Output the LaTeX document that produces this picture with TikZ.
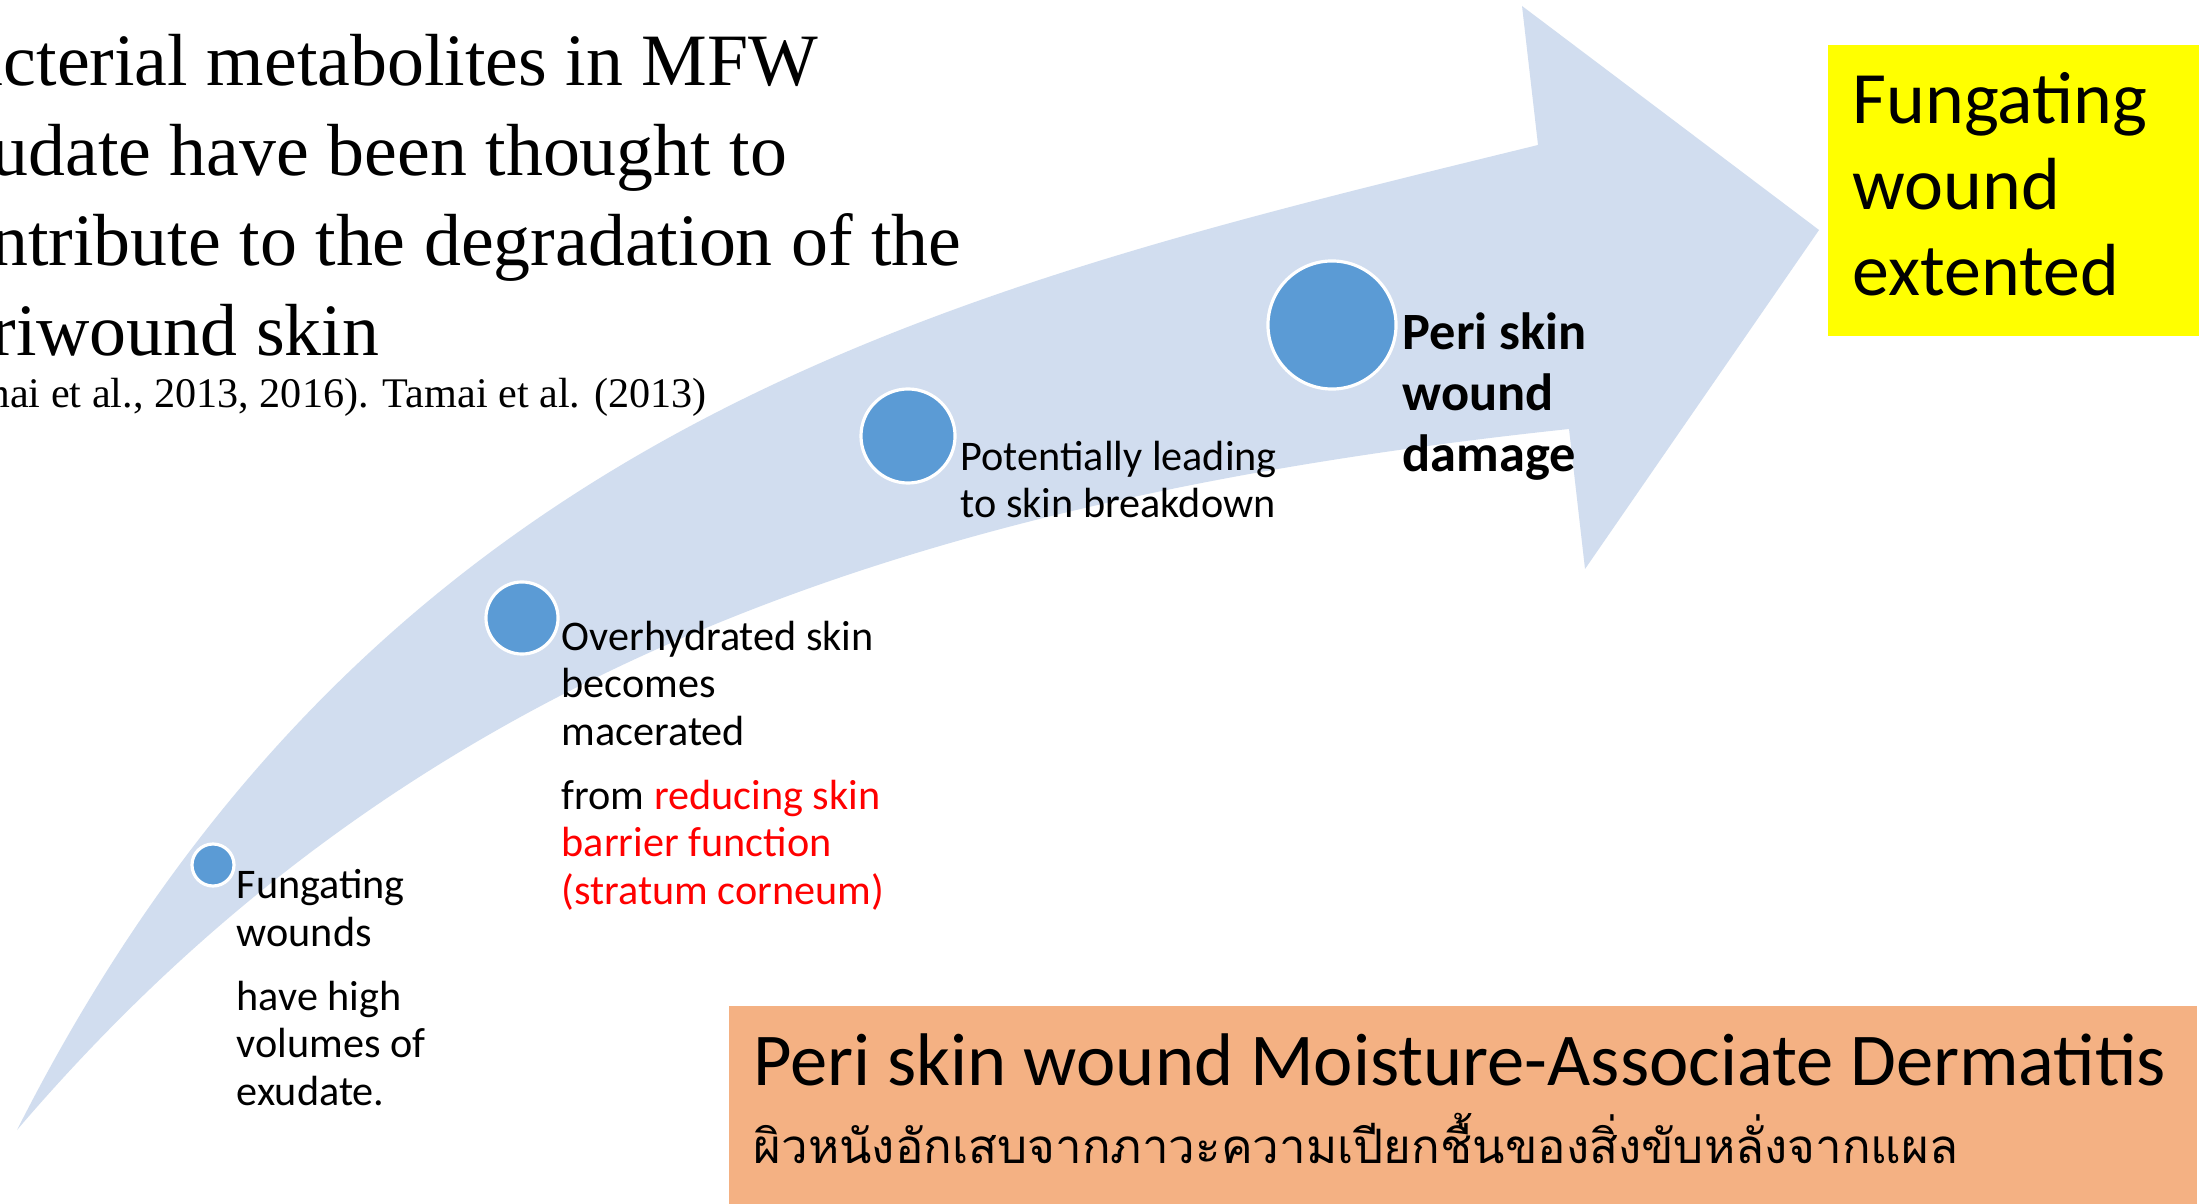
\documentclass[tikz,border=0pt]{standalone}
\usepackage{fontspec}
\setmainfont{Liberation Serif}
\newfontfamily\calibri{Carlito}
\newfontfamily\thaifont[Script=Thai]{Loma}
\usetikzlibrary{positioning}
\definecolor{band}{RGB}{209,221,239}
\definecolor{dotblue}{RGB}{91,155,213}
\definecolor{hilite}{RGB}{255,255,0}
\definecolor{peach}{RGB}{244,177,131}
\definecolor{alert}{RGB}{255,0,0}

\begin{document}
\begin{tikzpicture}[
          x=0.01cm, y=-0.01cm,
          dot/.style={circle, fill=dotblue, draw=white, line width=0.9pt, inner sep=0pt},
          lbl/.style={anchor=base west, align=left, inner sep=0pt,
                      font=\calibri\fontsize{12}{13.4}\selectfont},
          serif/.style={anchor=base west, align=left, inner sep=0pt}
        ]
        \clip (0,0) rectangle (2207,1204);
        \fill[white] (0,0) rectangle (2207,1204);
        % the curved band with its head
        \fill[band] (17,1130) .. controls (377,418) and (955,288) .. (1538,145)
          -- (1522,6) -- (1819,230) -- (1585,569) -- (1569,429)
          .. controls (873,503) and (394,689) .. cycle;
        % anchors sit on the last line
        \node[serif, font=\fontsize{21}{25.6}\selectfont] (quote) at (-79,356)
          {Bacterial metabolites in MFW\\exudate have been thought to\\contribute to the degradation of the\\periwound skin};
        \node[serif, font=\fontsize{12}{14}\selectfont] (cite) at (-79,408)
          {(Tamai et al., 2013, 2016). Tamai et al. (2013)};
        \node[dot, minimum size=0.42cm] (s1) at (213,865) {};
        \node[dot, minimum size=0.72cm] (s2) at (522,618) {};
        \node[dot, minimum size=0.94cm] (s3) at (908,436) {};
        \node[dot, minimum size=1.28cm] (s4) at (1332,325) {};
        \node[lbl] (t1) at (236,1105) {Fungating\\wounds\\[5pt]have high\\volumes of\\exudate.};
        \node[lbl] (t2) at (561,904) {Overhydrated skin\\becomes\\macerated\\[5pt]from \textcolor{alert}{reducing skin}\\\textcolor{alert}{barrier function}\\\textcolor{alert}{(stratum corneum)}};
        \node[lbl] (t3) at (960,518) {Potentially leading\\to skin breakdown};
        \node[lbl, font=\calibri\bfseries\fontsize{14.9}{17.4}\selectfont] (t4) at (1402,472) {Peri skin\\wound\\damage};
        % boxes
        \fill[hilite] (1828,45) rectangle (2199,336);
        \node[lbl, font=\calibri\fontsize{21}{24.5}\selectfont] (ext) at (1852,296) {Fungating\\wound\\extented};
        \fill[peach] (729,1006) rectangle (2197,1204);
        \node[lbl, font=\calibri\fontsize{21.2}{25}\selectfont] (mad) at (753,1085) {Peri skin wound Moisture-Associate Dermatitis};
        \node[lbl, font=\thaifont\fontsize{13.5}{16}\selectfont] (thai) at (753,1163) {ผิวหนังอักเสบจากภาวะความเปียกชื้นของสิ่งขับหลั่งจากแผล};
      \end{tikzpicture}
\end{document}
